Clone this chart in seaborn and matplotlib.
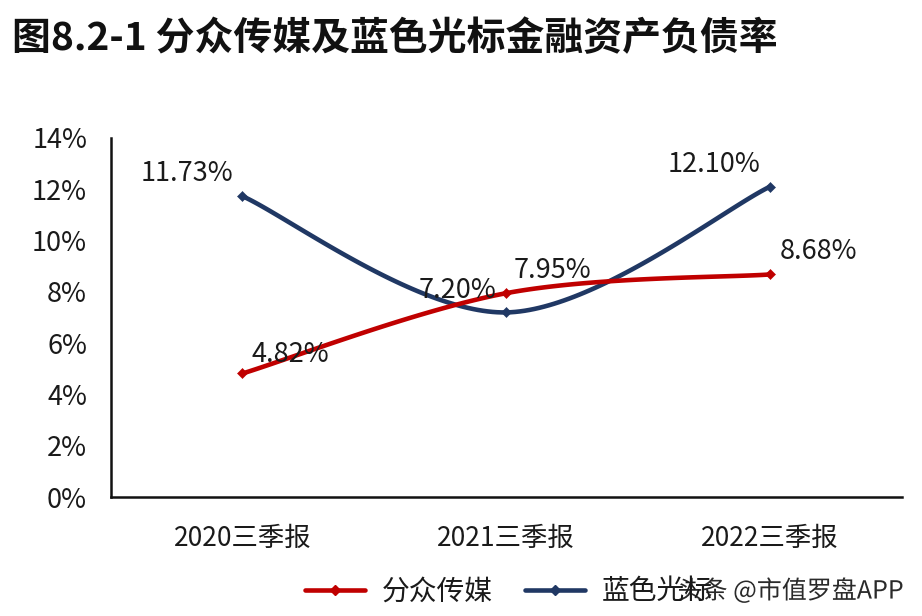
import numpy as np
import pandas as pd
import matplotlib
matplotlib.use("Agg")
import matplotlib.pyplot as plt
import matplotlib.patheffects as pe
import seaborn as sns
from matplotlib.lines import Line2D

categories = ["2020三季报", "2021三季报", "2022三季报"]
focus_media = [4.82, 7.95, 8.68]      # 分众传媒
bluefocus = [11.73, 7.20, 12.10]      # 蓝色光标
series_names = ["分众传媒", "蓝色光标"]
yticks = [0, 2, 4, 6, 8, 10, 12, 14]

sns.set_theme(style="white")
plt.rcParams['font.family'] = ['Noto Sans CJK SC', 'DejaVu Sans']

RED = "#C00000"
NAVY = "#203864"
TXT = "#1a1a1a"


def smooth(xs, ys, n=60):
    # Excel-style smoothed line (Bezier through points)
    xs = np.asarray(xs, float); ys = np.asarray(ys, float)
    P = np.column_stack([xs, ys])
    m = len(P)
    outx, outy = [], []
    t = np.linspace(0, 1, n)
    for i in range(m - 1):
        p0 = P[max(i - 1, 0)]; p1 = P[i]; p2 = P[i + 1]; p3 = P[min(i + 2, m - 1)]
        c1 = p1 + (p2 - p0) / 6.0
        c2 = p2 - (p3 - p1) / 6.0
        b = (np.outer((1 - t) ** 3, p1) + np.outer(3 * (1 - t) ** 2 * t, c1)
             + np.outer(3 * (1 - t) * t ** 2, c2) + np.outer(t ** 3, p2))
        outx.extend(b[:, 0]); outy.extend(b[:, 1])
    return np.array(outx), np.array(outy)


fig = plt.figure(figsize=(9.22, 6.16), dpi=100)
ax = fig.add_axes([0.120, 0.193, 0.858, 0.583])

x = np.arange(len(categories))
for vals, color in [(bluefocus, NAVY), (focus_media, RED)]:
    sx, sy = smooth(x, vals)
    df = pd.DataFrame({"x": sx, "y": sy})
    sns.lineplot(data=df, x="x", y="y", ax=ax, color=color, lw=3.3,
                 sort=False, estimator=None)
    sns.scatterplot(x=x, y=vals, ax=ax, color=color, marker="D", s=26,
                    edgecolor=color, zorder=5)

ax.set_xlim(-0.5, 2.5)
ax.set_ylim(0, 14)
ax.set_xticks(x)
ax.set_xticklabels(categories, fontsize=19, color=TXT)
ax.set_yticks(yticks)
ax.set_yticklabels([f"{v}%" for v in yticks], fontsize=19.5, color=TXT)
ax.tick_params(axis="x", length=0, pad=20)
ax.tick_params(axis="y", length=0, pad=17)
ax.set_xlabel("")
ax.set_ylabel("")
for s in ["top", "right"]:
    ax.spines[s].set_visible(False)
for s in ["left", "bottom"]:
    ax.spines[s].set_color("#111111")
    ax.spines[s].set_linewidth(1.8)

# data labels
lab_fs = 19.5
labels = [(-0.21, bluefocus[0] + 0.87, bluefocus[0]),
          (0.18, focus_media[0] + 0.72, focus_media[0]),
          (0.815, bluefocus[1] + 0.87, bluefocus[1]),
          (1.174, focus_media[1] + 0.90, focus_media[1]),
          (1.79, bluefocus[2] + 0.85, bluefocus[2]),
          (2.185, focus_media[2] + 0.88, focus_media[2])]
for lx, ly, v in labels:
    ax.text(lx, ly, f"{v:.2f}%", ha="center", va="center", fontsize=lab_fs,
            color=TXT, zorder=6)

# title
fig.text(0.013, 0.938, "图8.2-1 分众传媒及蓝色光标金融资产负债率", fontsize=28,
         fontweight="bold", color="#111111", ha="left", va="center")

# legend
handles = [Line2D([0], [0], color=RED, lw=3.3, marker="D", markersize=5),
           Line2D([0], [0], color=NAVY, lw=3.3, marker="D", markersize=5)]
fig.legend(handles, series_names, loc="center", bbox_to_anchor=(0.552, 0.040),
           ncol=2, frameon=False, fontsize=20, handlelength=2.16,
           columnspacing=1.15, handletextpad=0.6, labelcolor=TXT,
           borderpad=0, borderaxespad=0)

# watermark (overlaps the legend's last label, as in the reference)
fig.text(0.980, 0.040, "头条 @市值罗盘APP", fontsize=18, color="#2a2a2a",
         ha="right", va="center",
         path_effects=[pe.withStroke(linewidth=2.5, foreground="white")])

fig.savefig("out.png", dpi=100, facecolor="white")
